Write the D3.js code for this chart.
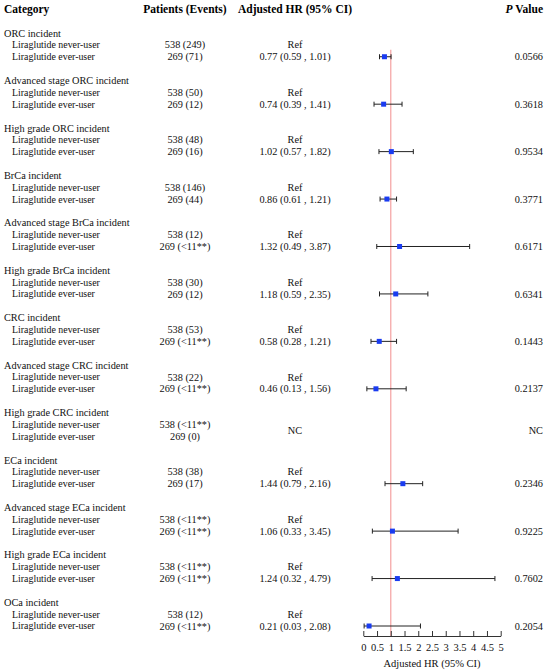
<!DOCTYPE html>
<html>
<head>
<meta charset="utf-8">
<script src="https://cdn.jsdelivr.net/npm/d3@7"></script>
<style>
  body { margin: 0; background: #fff; }
  svg { display: block; font-family: "Liberation Serif", "Times New Roman", serif; }
</style>
</head>
<body>
<div id="chart"></div>
<script>
// chart data
var categories = [
  'ORC incident', 'Advanced stage ORC incident', 'High grade ORC incident',
  'BrCa incident', 'Advanced stage BrCa incident', 'High grade BrCa incident',
  'CRC incident', 'Advanced stage CRC incident', 'High grade CRC incident',
  'ECa incident', 'Advanced stage ECa incident', 'High grade ECa incident',
  'OCa incident'
]
var groupLabels = ['Liraglutide never-user', 'Liraglutide ever-user']
var patientsNever = ['538 (249)', '538 (50)', '538 (48)', '538 (146)', '538 (12)', '538 (30)',
  '538 (53)', '538 (22)', '538 (<11**)', '538 (38)', '538 (<11**)', '538 (<11**)', '538 (12)']
var patientsEver = ['269 (71)', '269 (12)', '269 (16)', '269 (44)', '269 (<11**)', '269 (12)',
  '269 (<11**)', '269 (<11**)', '269 (0)', '269 (17)', '269 (<11**)', '269 (<11**)', '269 (<11**)']
var hr    = [0.77, 0.74, 1.02, 0.86, 1.32, 1.18, 0.58, 0.46, null, 1.44, 1.06, 1.24, 0.21]
var lower = [0.59, 0.39, 0.57, 0.61, 0.49, 0.59, 0.28, 0.13, null, 0.79, 0.33, 0.32, 0.03]
var upper = [1.01, 1.41, 1.82, 1.21, 3.87, 2.35, 1.21, 1.56, null, 2.16, 3.45, 4.79, 2.08]
var pValues = ['0.0566', '0.3618', '0.9534', '0.3771', '0.6171', '0.6341',
  '0.1443', '0.2137', 'NC', '0.2346', '0.9225', '0.7602', '0.2054']
var axisTicks = [0, 0.5, 1, 1.5, 2, 2.5, 3, 3.5, 4, 4.5, 5]

var width = 550, height = 671

var svg = d3.select('#chart').append('svg')
  .attr('width', width)
  .attr('height', height)

// one row per text line, four rows per group (title, never, ever, blank)
var row = d3.scaleLinear().domain([0, 52]).range([9.3, 626])
var x = d3.scaleLinear().domain([0, 5]).range([363.3, 500.7])

var colCat = 4, colSub = 12, colPat = 185, colHR = 295, colP = 543
var fmt = d3.format('.2f')

var header = svg.append('g').attr('font-weight', 'bold').attr('font-size', '11.5px')
header.append('text').attr('x', colCat).attr('y', row(0)).attr('dy', '0.35em').text('Category')
header.append('text').attr('x', colPat).attr('y', row(0)).attr('dy', '0.35em')
  .attr('text-anchor', 'middle').text('Patients (Events)')
header.append('text').attr('x', colHR).attr('y', row(0)).attr('dy', '0.35em')
  .attr('text-anchor', 'middle').text('Adjusted HR (95% CI)')
var ph = header.append('text').attr('x', colP).attr('y', row(0)).attr('dy', '0.35em')
  .attr('text-anchor', 'end')
ph.append('tspan').attr('font-style', 'italic').text('P')
ph.append('tspan').text(' Value')

// reference line at HR = 1
svg.append('line')
  .attr('x1', x(1)).attr('x2', x(1))
  .attr('y1', row(4) - 7).attr('y2', 636)
  .attr('stroke', '#f4a0a0')
  .attr('stroke-width', 1.2)

var groups = svg.selectAll('.grp')
  .data(categories)
  .enter().append('g')
  .attr('class', 'grp')
  .attr('font-size', '10.3px')
  .attr('fill', '#111')

groups.append('text')
  .attr('x', colCat)
  .attr('y', function(d, i){ return row(2 + i * 4) })
  .attr('dy', '0.35em')
  .text(function(d){ return d })

groups.each(function(d, i){
  var g = d3.select(this)
  var rNever = 3 + i * 4, rEver = 4 + i * 4

  g.append('text').attr('x', colSub).attr('y', row(rNever)).attr('dy', '0.35em')
    .attr('font-size', '9.9px').text(groupLabels[0])
  g.append('text').attr('x', colSub).attr('y', row(rEver)).attr('dy', '0.35em')
    .attr('font-size', '9.9px').text(groupLabels[1])

  g.append('text').attr('x', colPat).attr('y', row(rNever)).attr('dy', '0.35em')
    .attr('text-anchor', 'middle').text(patientsNever[i])
  g.append('text').attr('x', colPat).attr('y', row(rEver)).attr('dy', '0.35em')
    .attr('text-anchor', 'middle').text(patientsEver[i])

  if(hr[i] === null){
    var mid = (row(rNever) + row(rEver)) / 2
    g.append('text').attr('x', colHR).attr('y', mid).attr('dy', '0.35em')
      .attr('text-anchor', 'middle').text('NC')
    g.append('text').attr('x', colP).attr('y', mid).attr('dy', '0.35em')
      .attr('text-anchor', 'end').text(pValues[i])
    return
  }

  g.append('text').attr('x', colHR).attr('y', row(rNever)).attr('dy', '0.35em')
    .attr('text-anchor', 'middle').text('Ref')
  g.append('text').attr('x', colHR).attr('y', row(rEver)).attr('dy', '0.35em')
    .attr('text-anchor', 'middle')
    .text(fmt(hr[i]) + ' (' + fmt(lower[i]) + ' , ' + fmt(upper[i]) + ')')
  g.append('text').attr('x', colP).attr('y', row(rEver)).attr('dy', '0.35em')
    .attr('text-anchor', 'end').text(pValues[i])

  // CI whisker with end caps
  var yy = row(rEver)
  g.append('line')
    .attr('x1', x(lower[i])).attr('x2', x(upper[i]))
    .attr('y1', yy).attr('y2', yy)
    .attr('stroke', '#222').attr('stroke-width', 1)
  ;[lower[i], upper[i]].forEach(function(v){
    g.append('line')
      .attr('x1', x(v)).attr('x2', x(v))
      .attr('y1', yy - 2.5).attr('y2', yy + 2.5)
      .attr('stroke', '#222').attr('stroke-width', 1)
  })
  g.append('rect')
    .attr('x', x(hr[i]) - 2.5).attr('y', yy - 2.5)
    .attr('width', 5).attr('height', 5)
    .attr('fill', '#1a3cf0')
})

// x axis, ticks pointing up
var axis = svg.append('g')
  .attr('transform', 'translate(0,636)')
  .call(d3.axisBottom(x)
    .tickValues(axisTicks)
    .tickFormat(d3.format('~g'))
    .tickSize(-5)
    .tickSizeOuter(0)
    .tickPadding(8))

axis.select('.domain').attr('stroke', '#333')
axis.selectAll('.tick line').attr('stroke', '#333')
axis.selectAll('.tick text')
  .attr('font-family', '"Liberation Serif", "Times New Roman", serif')
  .attr('font-size', '10.5px')
  .attr('fill', '#111')

svg.append('text')
  .attr('x', (x.range()[0] + x.range()[1]) / 2)
  .attr('y', 663)
  .attr('dy', '0.35em')
  .attr('text-anchor', 'middle')
  .attr('font-size', '10.5px')
  .attr('fill', '#111')
  .text('Adjusted HR (95% CI)')
</script>
</body>
</html>
